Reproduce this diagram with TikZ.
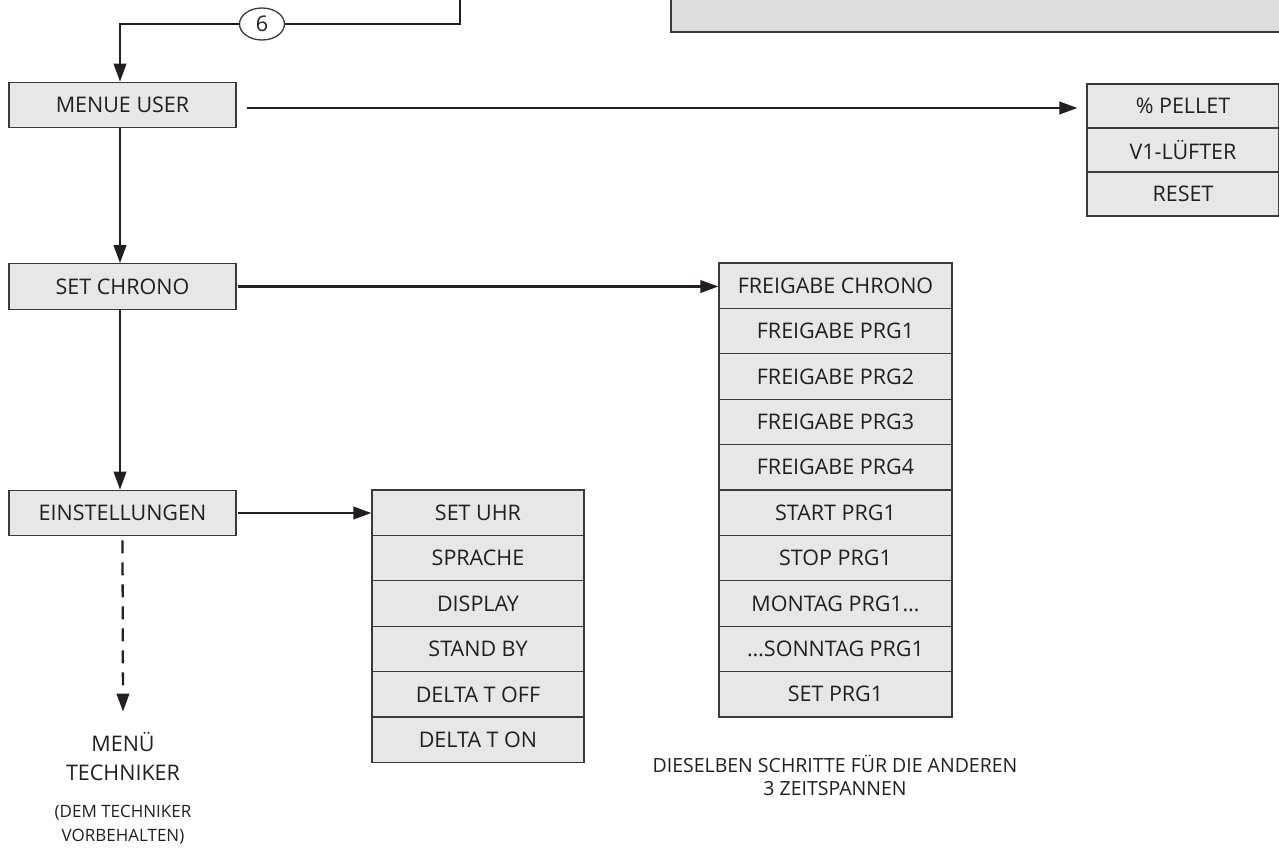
\documentclass[tikz,border=0pt]{standalone}
\usepackage{fontspec}
\setmainfont{Open Sans}
\usetikzlibrary{arrows.meta,shapes.geometric}
\definecolor{boxfill}{HTML}{E6E7E8}
\definecolor{topfill}{HTML}{DCDDDF}
\definecolor{edge}{HTML}{3A3A3A}
\definecolor{ink}{HTML}{231F20}
\begin{document}
\begin{tikzpicture}[x=1pt,y=-1pt,
  cell/.style={draw=edge, line width=1.3pt, fill=boxfill, minimum height=45.4pt,
    inner sep=0pt, font=\fontsize{21.5}{24}\selectfont, text=ink},
  conn/.style={line width=2.3pt, draw=ink, -{Triangle[length=18pt,width=12.5pt]}},
  plain/.style={line width=2.3pt, draw=ink},
  label/.style={align=center, text=ink, inner sep=0pt}
]
\useasboundingbox (0,0) rectangle (1279,852);

% top grey box
\node[draw=edge, line width=1.8pt, fill=topfill, minimum width=620pt, minimum height=45pt,
  anchor=south west, inner sep=0pt] (topbox) at (670,33) {};

% left column
\node[cell, minimum width=227pt] (mu) at (122.5,105) {MENUE USER};
\node[cell, minimum width=227pt] (sc) at (122.5,286.5) {SET CHRONO};
\node[cell, minimum width=227pt] (ei) at (122.5,513) {EINSTELLUNGEN};

% user sub menu
\node[cell, minimum width=192pt, minimum height=44pt] (p1) at (1183,106) {\% PELLET};
\node[cell, minimum width=192pt, minimum height=44pt] (p2) at (1183,150) {V1-LÜFTER};
\node[cell, minimum width=192pt, minimum height=44pt] (p3) at (1183,194) {RESET};

% chrono column
\foreach \t [count=\i] in {FREIGABE CHRONO, FREIGABE PRG1, FREIGABE PRG2, FREIGABE PRG3,
  FREIGABE PRG4, START PRG1, STOP PRG1, MONTAG PRG1…, …SONNTAG PRG1, SET PRG1}
  \node[cell, minimum width=233pt] (c\i) at (835.5,{285.7+45.4*(\i-1)}) {\t};

% settings column
\foreach \t [count=\i] in {SET UHR, SPRACHE, DISPLAY, STAND BY, DELTA T OFF, DELTA T ON}
  \node[cell, minimum width=212pt] (u\i) at (478,{512.7+45.4*(\i-1)}) {\t};

% texts
\node[label, font=\fontsize{21.5}{29}\selectfont] (mt) at (123,756) {MENÜ\\TECHNIKER};
\node[label, font=\fontsize{17}{24}\selectfont] (dt) at (123,825) {(DEM TECHNIKER\\VORBEHALTEN)};
\node[label, font=\fontsize{19.5}{23}\selectfont] (ds) at (835,775) {DIESELBEN SCHRITTE FÜR DIE ANDEREN\\3 ZEITSPANNEN};

% connector from above
\coordinate (topin) at (460,-2);
\node[ellipse, draw=edge, line width=1.3pt, fill=white, minimum width=45pt, minimum height=32pt,
  inner sep=0pt, font=\fontsize{21.5}{24}\selectfont, text=ink] (six) at (262,24) {6};
\draw[plain] (topin) |- (six.east);
\draw[conn] (six.west) -| ([xshift=-2.5pt]mu.north);

% connectors
\draw[conn, shorten >=9pt] ([xshift=10pt,yshift=-3pt]mu.east) -- ([yshift=-3pt]mu.east -| p1.west);
\draw[conn] ([xshift=1.5pt]sc.east) -- (sc.east -| c1.west);
\draw[conn] ([xshift=1.5pt]ei.east) -- (ei.east -| u1.west);
\draw[conn] ([xshift=-2.5pt]mu.south) -- ([xshift=-2.5pt]sc.north);
\draw[conn] ([xshift=-2.5pt]sc.south) -- ([xshift=-2.5pt]ei.north);
\draw[conn, dash pattern=on 13pt off 9pt] ([yshift=-4pt]ei.south) -- ([yshift=20pt]mt.north);
\end{tikzpicture}
\end{document}
